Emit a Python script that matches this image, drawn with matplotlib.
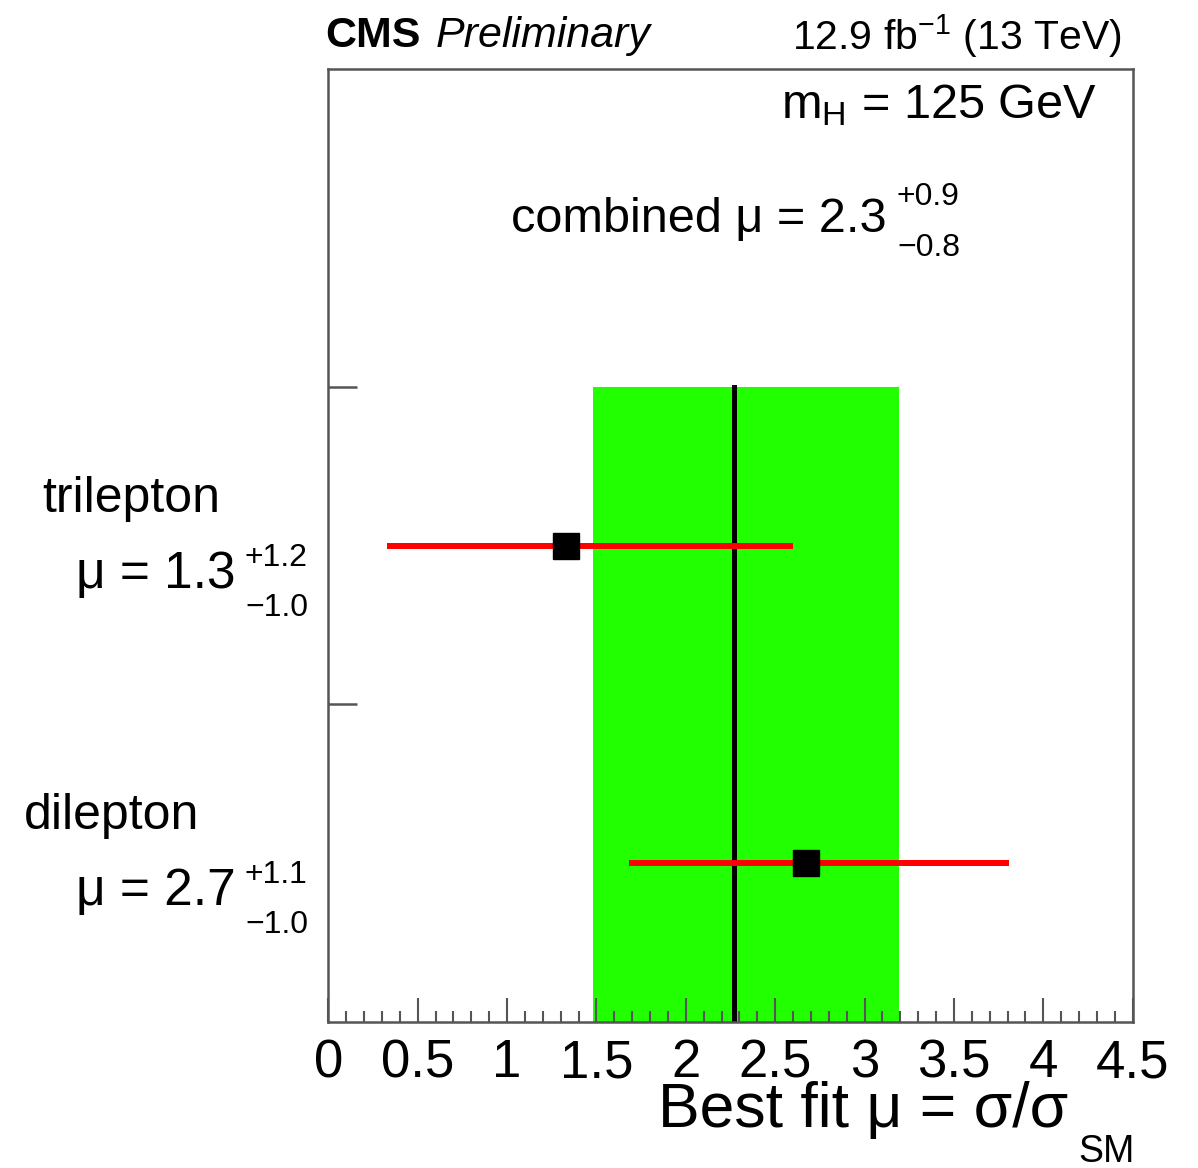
import numpy as np
import matplotlib
matplotlib.use("Agg")
import matplotlib.pyplot as plt
from matplotlib.ticker import MultipleLocator

plt.rcParams['font.family'] = ['Liberation Sans', 'DejaVu Sans']
plt.rcParams['mathtext.fontset'] = 'custom'
plt.rcParams['mathtext.rm'] = 'Liberation Sans'
plt.rcParams['mathtext.it'] = 'Liberation Sans:italic'
plt.rcParams['mathtext.bf'] = 'Liberation Sans:bold'

# channel fits
channels = ["dilepton", "trilepton"]
mu_text = ["2.7", "1.3"]
up_text = ["+1.1", "+1.2"]
dn_text = ["\u22121.0", "\u22121.0"]
mu_best = [2.67, 1.33]
mu_lo = [1.684, 0.326]
mu_hi = [3.81, 2.60]
y_pos = [0.5, 1.5]

# combined fit
comb_mu = 2.267
comb_lo = 1.478
comb_hi = 3.19
comb_text = ("2.3", "+0.9", "\u22120.8")

W, H = 1198, 1168
fig = plt.figure(figsize=(W / 100, H / 100), dpi=100)
ax = fig.add_axes([328.3 / W, 1 - 1022 / H, (1132.7 - 328.3) / W, (1022 - 69) / H])

frame_col = '#555555'

# combined band and central value
ax.fill_betweenx([0, 2], comb_lo, comb_hi, color='#22ff00', lw=0, zorder=1)
ax.plot([comb_mu, comb_mu], [0, 2], color='black', lw=3.6, zorder=2)

# per-channel points with error bars
for i in range(len(channels)):
    ax.plot([mu_lo[i], mu_hi[i]], [y_pos[i], y_pos[i]], color='#ff0000', lw=4.3,
            solid_capstyle='butt', zorder=3)
    ax.plot(mu_best[i], y_pos[i], marker='s', ms=19, color='black', zorder=4)

ax.set_xlim(0, 4.5)
ax.set_ylim(0, 3)
ax.xaxis.set_major_locator(MultipleLocator(0.5))
ax.xaxis.set_minor_locator(MultipleLocator(0.1))
ax.set_xticklabels([])
ax.set_yticks([1, 2])
ax.set_yticklabels([])
ax.tick_params(axis='x', which='major', direction='in', length=17, width=1.5,
               color=frame_col, top=False)
ax.tick_params(axis='x', which='minor', direction='in', length=8, width=1.5,
               color=frame_col, top=False)
ax.tick_params(axis='y', which='major', direction='in', length=21, width=1.8,
               color=frame_col, right=False)
for s in ax.spines.values():
    s.set_color(frame_col)
    s.set_linewidth(1.8)


def ftext(x, y, s, **kw):
    fig.text(x / W, 1 - y / H, s, **kw)


# tick labels as text under the axis
for v in np.arange(0, 4.51, 0.5):
    xp = ax.transData.transform((v, 0))[0]
    ftext(xp, 1077, "%g" % v, fontsize=38, ha='center', va='baseline')

# axis title
ftext(1068, 1127, "Best fit \u03bc = \u03c3/\u03c3", fontsize=45, ha='right', va='baseline')
ftext(1135, 1162, "SM", fontsize=27, ha='right', va='baseline')

# header
ftext(325, 47, "CMS", fontsize=31, fontweight='bold', ha='left', va='baseline')
ftext(436, 47, "Preliminary", fontsize=31, fontstyle='italic', ha='left', va='baseline')
ftext(1122, 50, r"12.9 fb$^{\mathrm{-1}}$ (13 TeV)", fontsize=29.5, ha='right', va='baseline')

ftext(1097, 118, r"m$_{\mathrm{H}}$ = 125 GeV", fontsize=35, ha='right', va='baseline')

# combined label
ftext(887, 232, "combined \u03bc = " + comb_text[0], fontsize=35, ha='right', va='baseline')
ftext(897, 205, comb_text[1], fontsize=23, ha='left', va='baseline')
ftext(897, 256, comb_text[2], fontsize=23, ha='left', va='baseline')

# channel labels on the left
label_y = {"trilepton": (512, 588), "dilepton": (829, 905)}
name_x = {"trilepton": 42, "dilepton": 24}
for i, ch in enumerate(channels):
    yn, ym = label_y[ch]
    ftext(name_x[ch], yn, ch, fontsize=36, ha='left', va='baseline')
    ftext(236, ym, "\u03bc = " + mu_text[i], fontsize=37, ha='right', va='baseline')
    ftext(245, ym - 22, up_text[i], fontsize=23, ha='left', va='baseline')
    ftext(245, ym + 28, dn_text[i], fontsize=23, ha='left', va='baseline')

fig.savefig("out.png", dpi=100, facecolor='white')
